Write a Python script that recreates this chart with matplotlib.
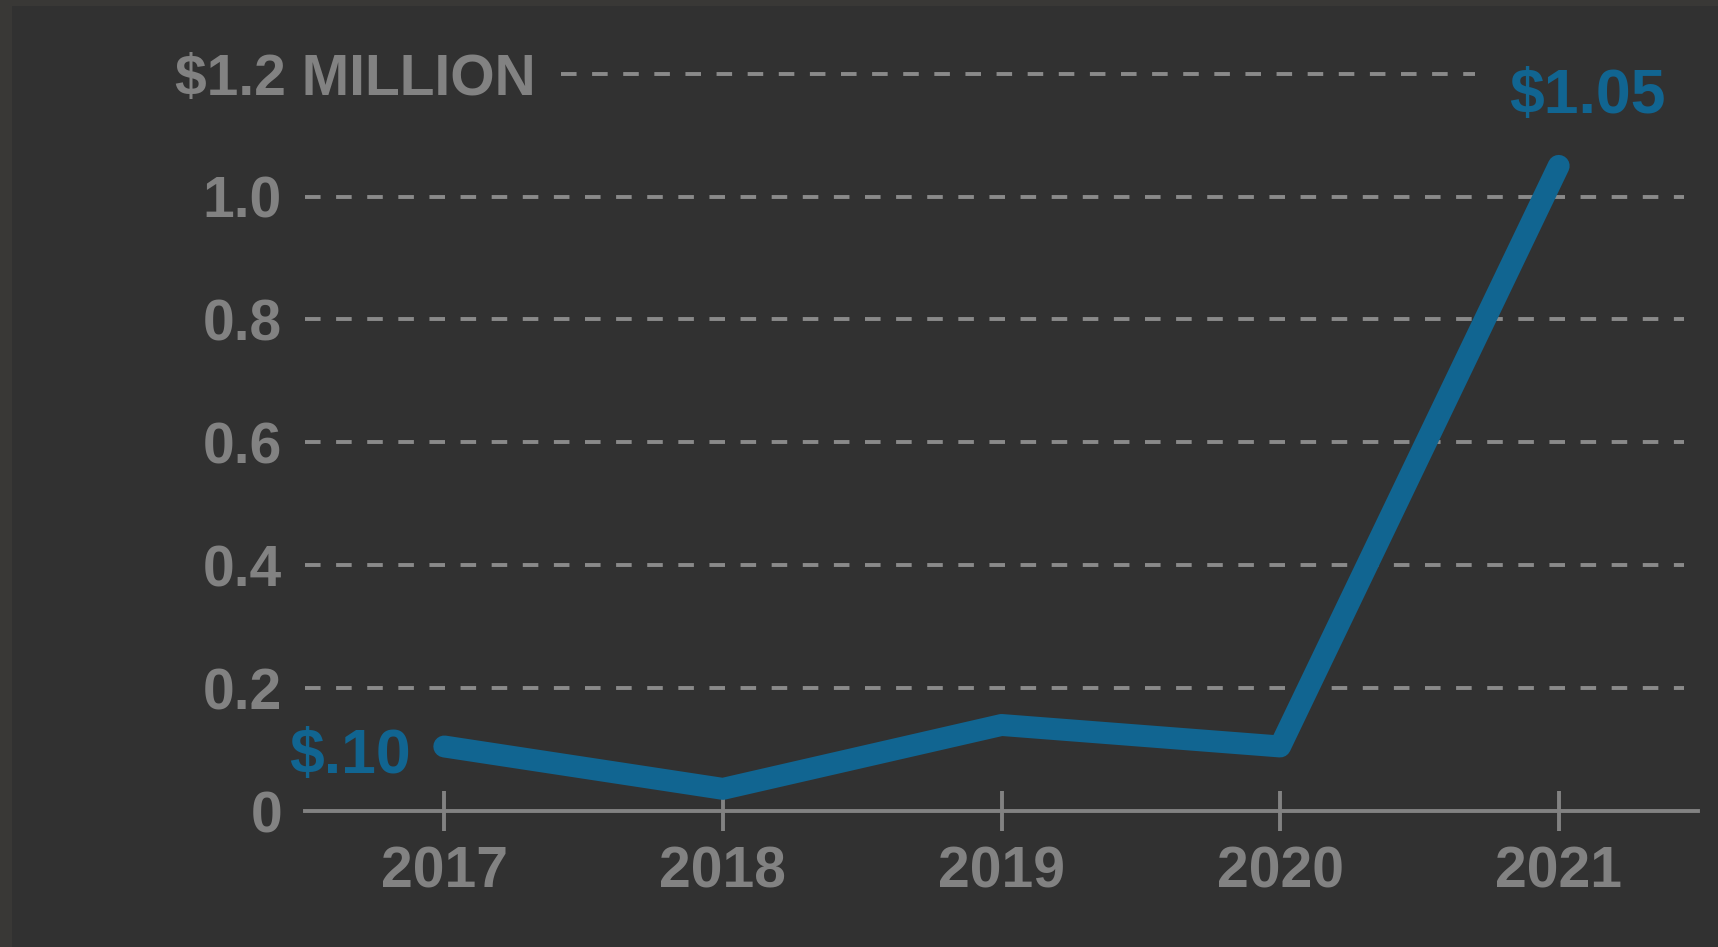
import matplotlib
matplotlib.use("Agg")
import matplotlib.pyplot as plt
from matplotlib.patches import Rectangle

years = ["2017", "2018", "2019", "2020", "2021"]
values = [0.105, 0.036, 0.14, 0.105, 1.05]
ytick_vals = [0, 0.2, 0.4, 0.6, 0.8, 1.0]
ytick_labels = ["0", "0.2", "0.4", "0.6", "0.8", "1.0"]
top_val = 1.2
top_label = "$1.2 MILLION"
first_label = "$.10"
last_label = "$1.05"

BG = "#313131"
STRIP = "#393836"
GRAY = "#828282"
GRID = "#8a8a8a"
BLUE = "#116591"
FONT = "Liberation Sans"
FS = 41
FS_LAB = 45

W, H = 1718, 947
fig = plt.figure(figsize=(W / 100, H / 100), dpi=100)
fig.patch.set_facecolor(BG)
# frame strips (left and top)
fig.patches.append(Rectangle((0, 0), 12 / W, 1, transform=fig.transFigure,
                             facecolor=STRIP, edgecolor="none", zorder=0))
fig.patches.append(Rectangle((0, 1 - 6 / H), 1, 6 / H, transform=fig.transFigure,
                             facecolor=STRIP, edgecolor="none", zorder=0))

left = 305 / W
right = 1698 / W
bottom = (H - 811) / H
top = (H - 43) / H
ax = fig.add_axes([left, bottom, right - left, top - bottom])
ax.set_facecolor("none")

x = list(range(len(years)))
ax.set_xlim(-0.5, len(years) - 0.5)
ax.set_ylim(0, 1.25)

# dashed gridlines
for v in ytick_vals[1:]:
    ax.hlines(v, -0.5, len(years) - 0.55, colors=GRID, linewidth=2.8,
              linestyles=(0, (4, 4)), zorder=1)
ax.hlines(top_val, 0.42, 3.70, colors=GRID, linewidth=2.8,
          linestyles=(0, (4, 4)), zorder=1)

ax.plot(x, values, color=BLUE, linewidth=15.8, solid_capstyle="round",
        solid_joinstyle="round", zorder=3, clip_on=False)

for s in ["top", "right", "left"]:
    ax.spines[s].set_visible(False)
ax.spines["bottom"].set_color(GRAY)
ax.spines["bottom"].set_linewidth(2.8)

ax.set_xticks(x)
ax.set_xticklabels(years)
ax.tick_params(axis="x", direction="inout", length=29, width=2.8, color=GRAY,
               pad=10, labelsize=FS, labelcolor=GRAY)
ax.set_yticks(ytick_vals)
ax.set_yticklabels(ytick_labels)
ax.tick_params(axis="y", length=0, pad=16.5, labelsize=FS, labelcolor=GRAY)
for lab in ax.get_xticklabels() + ax.get_yticklabels():
    lab.set_fontfamily(FONT)
    lab.set_fontweight("bold")

ax.text(0.33, top_val, top_label, ha="right", va="center_baseline",
        fontsize=FS, fontweight="bold", color=GRAY, family=FONT)

ax.annotate(first_label, xy=(x[0], values[0]), xytext=(-24, -19),
            textcoords="offset points", ha="right", va="baseline",
            fontsize=FS_LAB, fontweight="bold", color=BLUE, family=FONT)
ax.annotate(last_label, xy=(x[-1], values[-1]), xytext=(21, 38),
            textcoords="offset points", ha="center", va="baseline",
            fontsize=FS_LAB, fontweight="bold", color=BLUE, family=FONT)

fig.savefig("out.png", dpi=100, facecolor=BG)
